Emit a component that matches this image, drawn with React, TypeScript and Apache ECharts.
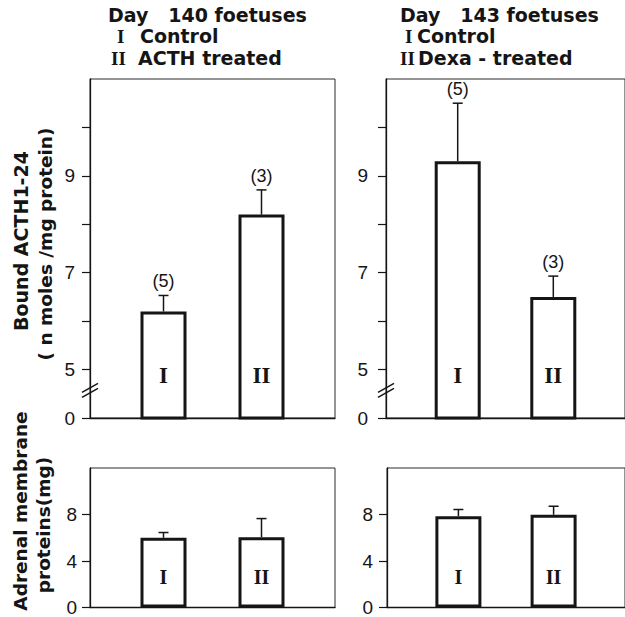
import React, { useEffect, useRef } from "react";
import * as echarts from "echarts";

// ---- data ----
const groups = ["I", "II"];
const xPos = [1.5, 3.5];

// Bound ACTH1-24 (n moles / mg protein)
const boundDay140 = [6.2, 8.2];
const boundDay140Top = [6.53, 8.71];
const boundDay140N = ["(5)", "(3)"];
const boundDay143 = [9.3, 6.5];
const boundDay143Top = [10.5, 6.93];
const boundDay143N = ["(5)", "(3)"];

// Adrenal membrane proteins (mg)
const protDay140 = [6.0, 6.05];
const protDay140Top = [6.45, 7.65];
const protDay143 = [7.85, 7.98];
const protDay143Top = [8.43, 8.71];

// axes (upper axis is broken: its lowest value is labelled "0")
const topMin = 4;
const topMax = 11;
const topTicks = [4, 5, 6, 7, 8, 9, 10];
const topLabels = [4, 5, 7, 9];
const bottomMin = 0;
const bottomMax = 12;
const bottomTicks = [0, 4, 8];

const INK = "#151515";
const SANS = '"DejaVu Sans", sans-serif';
const SERIF = '"Liberation Serif", serif';
const TICKFONT = '"Liberation Sans", sans-serif';

function barSeries(idx: number, vals: number[]) {
  return {
    type: "bar",
    xAxisIndex: idx,
    yAxisIndex: idx,
    data: xPos.map((x, i) => [x, vals[i]]),
    barWidth: 46,
    itemStyle: { color: "#fff", borderColor: INK, borderWidth: 3 },
    z: 2,
  };
}

function errSeries(
  idx: number,
  means: number[],
  tops: number[],
  counts: string[] | null,
  base: number,
  romanOffset: number,
  romanSize: number
) {
  return {
    type: "custom",
    xAxisIndex: idx,
    yAxisIndex: idx,
    clip: false,
    z: 5,
    data: xPos.map((x, i) => [x, means[i], tops[i], i]),
    renderItem: (_p: any, api: any) => {
      const x = api.value(0);
      const i = api.value(3);
      const p0 = api.coord([x, api.value(1)]);
      const p1 = api.coord([x, api.value(2)]);
      const pb = api.coord([x, base]);
      const children: any[] = [
        {
          type: "line",
          shape: { x1: p0[0], y1: p0[1], x2: p1[0], y2: p1[1] },
          style: { stroke: INK, lineWidth: 1.5 },
        },
        {
          type: "line",
          shape: { x1: p1[0] - 5, y1: p1[1], x2: p1[0] + 5, y2: p1[1] },
          style: { stroke: INK, lineWidth: 1.5 },
        },
        {
          type: "text",
          x: pb[0],
          y: pb[1] - romanOffset,
          style: {
            text: groups[i],
            fontSize: romanSize,
            fontFamily: SERIF,
            fontWeight: "bold",
            fill: INK,
            align: "center",
            verticalAlign: "middle",
          },
        },
      ];
      if (counts) {
        children.push({
          type: "text",
          x: p1[0],
          y: p1[1] - 14,
          style: {
            text: counts[i],
            fontSize: 18,
            fontFamily: TICKFONT,
            fill: INK,
            align: "center",
            verticalAlign: "middle",
          },
        });
      }
      return { type: "group", children };
    },
  };
}

function breakSeries(idx: number) {
  return {
    type: "custom",
    xAxisIndex: idx,
    yAxisIndex: idx,
    clip: false,
    z: 6,
    data: [[0, 4.55]],
    renderItem: (_p: any, api: any) => {
      const c = api.coord([api.value(0), api.value(1)]);
      const mk = (dy: number) => ({
        type: "line",
        shape: { x1: c[0] - 8, y1: c[1] + 3 + dy, x2: c[0] + 8, y2: c[1] - 6 + dy },
        style: { stroke: INK, lineWidth: 1.5 },
      });
      return { type: "group", children: [mk(-2), mk(3)] };
    },
  };
}

function yAxisTop(idx: number, margin: number) {
  return {
    type: "value",
    gridIndex: idx,
    min: topMin,
    max: topMax,
    interval: 1,
    splitLine: { show: false },
    axisLine: { show: true, lineStyle: { color: INK, width: 1.3 } },
    axisTick: { show: true, length: 8, customValues: topTicks, lineStyle: { color: INK, width: 1.2 } },
    axisLabel: {
      customValues: topLabels,
      margin,
      fontSize: 19,
      fontFamily: TICKFONT,
      color: INK,
      formatter: (v: number) => (v === topMin ? "0" : String(v)),
    },
  };
}

function yAxisBottom(idx: number, margin: number) {
  return {
    type: "value",
    gridIndex: idx,
    min: bottomMin,
    max: bottomMax,
    interval: 4,
    splitLine: { show: false },
    axisLine: { show: true, lineStyle: { color: INK, width: 1.3 } },
    axisTick: { show: true, length: 8, customValues: bottomTicks, lineStyle: { color: INK, width: 1.2 } },
    axisLabel: {
      customValues: bottomTicks,
      margin,
      fontSize: 19,
      fontFamily: TICKFONT,
      color: INK,
    },
  };
}

function xAxis(idx: number, max: number) {
  return {
    type: "value",
    gridIndex: idx,
    min: 0,
    max,
    axisLine: { show: true, onZero: false, lineStyle: { color: INK, width: 1.3 } },
    axisTick: { show: false },
    axisLabel: { show: false },
    splitLine: { show: false },
  };
}

function txt(text: string, x: number, y: number, font: string, extra: any = {}) {
  return {
    type: "text",
    x,
    y,
    z: 10,
    style: {
      text,
      font,
      fill: INK,
      textAlign: "left",
      textVerticalAlign: "middle",
      ...extra,
    },
  };
}

function vtxt(text: string, cx: number, cy: number, font: string) {
  return {
    type: "text",
    x: cx,
    y: cy,
    rotation: Math.PI / 2,
    z: 10,
    style: {
      text,
      font,
      fill: INK,
      textAlign: "center",
      textVerticalAlign: "middle",
    },
  };
}

export default function App() {
  const ref = useRef<HTMLDivElement>(null);
  useEffect(() => {
    if (!ref.current) return;
    const chart = echarts.init(ref.current, null, { renderer: "svg" });
    const hb = `bold 19px ${SANS}`;
    const rb = `bold 19px ${SERIF}`;
    const frame = { show: true, borderColor: "#2a2a2a", borderWidth: 1, backgroundColor: "transparent" };
    chart.setOption({
      animation: false,
      backgroundColor: "#fff",
      grid: [
        { left: 90, top: 79, width: 245, height: 339, ...frame },
        { left: 386, top: 79, width: 245, height: 339, ...frame },
        { left: 90, top: 468, width: 245, height: 143, ...frame },
        { left: 387, top: 468, width: 245, height: 143, ...frame },
      ],
      xAxis: [xAxis(0, 5), xAxis(1, 5), xAxis(2, 5), xAxis(3, 5)],
      yAxis: [yAxisTop(0, 15), yAxisTop(1, 18), yAxisBottom(2, 13), yAxisBottom(3, 14)],
      series: [
        barSeries(0, boundDay140),
        barSeries(1, boundDay143),
        barSeries(2, protDay140),
        barSeries(3, protDay143),
        errSeries(0, boundDay140, boundDay140Top, boundDay140N, topMin, 43, 23),
        errSeries(1, boundDay143, boundDay143Top, boundDay143N, topMin, 43, 23),
        errSeries(2, protDay140, protDay140Top, null, bottomMin, 31, 20),
        errSeries(3, protDay143, protDay143Top, null, bottomMin, 31, 20),
        breakSeries(0),
        breakSeries(1),
      ],
      graphic: [
        txt("Day   140 foetuses", 108, 15, hb),
        txt("I", 117, 36, rb),
        txt("Control", 140, 36, hb),
        txt("II", 111, 58, rb),
        txt("ACTH treated", 138, 58, hb),
        txt("Day   143 foetuses", 400, 15, hb),
        txt("I", 405, 36, rb),
        txt("Control", 417, 36, hb),
        txt("II", 400, 58, rb),
        txt("Dexa - treated", 418, 58, hb),
        vtxt("Bound ACTH1-24", 21, 241, `bold 19px ${SANS}`),
        vtxt("( n moles /mg protein)", 45, 244, `bold 18.5px ${SANS}`),
        vtxt("Adrenal membrane", 20, 511, `bold 18.5px ${SANS}`),
        vtxt("proteins(mg)", 43, 525, `bold 18.5px ${SANS}`),
      ],
    });
    return () => chart.dispose();
  }, []);
  return (
    <div
      ref={ref}
      style={{ position: "fixed", left: 0, top: 0, width: 625, height: 617, background: "#fff" }}
    />
  );
}
